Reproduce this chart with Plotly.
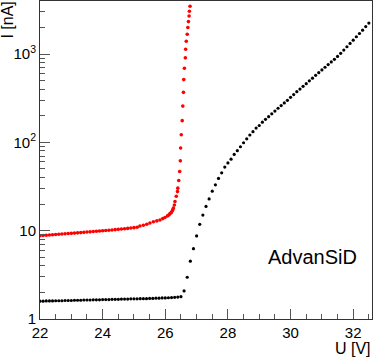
'''
    I-V curves of two SiPMs (AdvanSiD), log current scale.
'''
import plotly.graph_objects as go

# red device: bias voltage [V] and current [nA]
red_u = [22.0, 22.1, 22.2, 22.3, 22.4, 22.5, 22.6, 22.7, 22.8, 22.9,
         23.0, 23.1, 23.2, 23.3, 23.4, 23.5, 23.6, 23.7, 23.8, 23.9,
         24.0, 24.1, 24.2, 24.3, 24.4, 24.5, 24.6, 24.7, 24.8, 24.9,
         25.0, 25.1, 25.19, 25.30, 25.41, 25.51, 25.62, 25.73, 25.83, 25.92,
         25.99, 26.07, 26.12, 26.15, 26.19, 26.22, 26.24, 26.26, 26.29, 26.31,
         26.35, 26.39, 26.40, 26.43, 26.46, 26.48, 26.49, 26.51, 26.54, 26.56,
         26.58, 26.59, 26.61, 26.64, 26.65, 26.67, 26.70, 26.72, 26.74, 26.76,
         26.77, 26.79]
red_i = [8.75, 8.80, 8.86, 8.92, 8.98, 9.04, 9.10, 9.16, 9.21, 9.27,
         9.33, 9.39, 9.45, 9.51, 9.57, 9.64, 9.70, 9.77, 9.84, 9.91,
         9.98, 10.05, 10.12, 10.19, 10.27, 10.35, 10.43, 10.52, 10.61, 10.71,
         10.82, 10.94, 11.3, 11.5, 11.8, 12.2, 12.6, 12.9, 13.2, 13.7,
         14.1, 14.7, 15.1, 15.6, 16.0, 16.7, 17.3, 18.0, 19.5, 21.4,
         24.5, 27.7, 30.3, 37.0, 46.8, 61.7, 86.1, 122, 176, 257,
         368, 513, 689, 904, 1130, 1393, 1671, 1995, 2328, 2692,
         3048, 3467]

# black device
black_u = [22.0, 22.1, 22.2, 22.3, 22.4, 22.5, 22.6, 22.7, 22.8, 22.9,
           23.0, 23.1, 23.2, 23.3, 23.4, 23.5, 23.6, 23.7, 23.8, 23.9,
           24.0, 24.1, 24.2, 24.3, 24.4, 24.5, 24.6, 24.7, 24.8, 24.9,
           25.0, 25.1, 25.2, 25.3, 25.4, 25.5, 25.6, 25.7, 25.8, 25.9,
           26.0, 26.1, 26.2, 26.3, 26.4, 26.5, 26.6, 26.7, 26.8, 26.9,
           27.0, 27.1, 27.2, 27.3, 27.4, 27.5, 27.6, 27.7, 27.8, 27.9,
           28.0, 28.1, 28.2, 28.3, 28.4, 28.5, 28.6, 28.7, 28.8, 28.9,
           29.0, 29.1, 29.2, 29.3, 29.4, 29.5, 29.6, 29.7, 29.8, 29.9,
           30.0, 30.1, 30.2, 30.3, 30.4, 30.5, 30.6, 30.7, 30.8, 30.9,
           31.0, 31.1, 31.2, 31.3, 31.4, 31.5, 31.6, 31.7, 31.8, 31.9,
           32.0, 32.1, 32.2, 32.3, 32.4, 32.5]
black_i = [1.59, 1.59, 1.60, 1.60, 1.60, 1.61, 1.61, 1.61, 1.62, 1.62,
           1.62, 1.63, 1.63, 1.63, 1.64, 1.64, 1.64, 1.65, 1.65, 1.65,
           1.66, 1.66, 1.66, 1.67, 1.67, 1.67, 1.68, 1.68, 1.68, 1.69,
           1.69, 1.69, 1.70, 1.70, 1.70, 1.71, 1.71, 1.72, 1.72, 1.73,
           1.73, 1.74, 1.75, 1.76, 1.77, 1.79, 2.08, 2.97, 4.51, 6.26,
           8.73, 11.8, 15.0, 18.8, 22.9, 28.0, 33.0, 39.0, 45.2, 52.5,
           58.5, 64.5, 73.0, 80.4, 89.1, 98.9, 109.6, 121, 132, 145,
           155, 169, 182, 195, 210, 226, 243, 261, 279, 299,
           323, 347, 375, 401, 431, 461, 497, 533, 573, 615,
           661, 708, 759, 813, 871, 938, 1019, 1109, 1208, 1318,
           1435, 1567, 1706, 1862, 2042, 2239]

y_major = [1, 10, 100, 1000]
y_labels = ['1', '10', '10<sup>2</sup>', '10<sup>3</sup>']
y_minor = [m * d for d in (1, 10, 100, 1000) for m in range(2, 10) if m * d < 4000]

FONT = 'Liberation Sans, Arial, sans-serif'

fig = go.Figure()
fig.add_trace(go.Scatter(x=red_u, y=red_i, mode='markers',
                         marker=dict(color='#ff0000', size=3.6)))
fig.add_trace(go.Scatter(x=black_u, y=black_i, mode='markers',
                         marker=dict(color='#000000', size=3.2)))

fig.update_xaxes(
    range=[22, 32.6], showline=True, linecolor='#333333', linewidth=1,
    mirror=True, showgrid=False, zeroline=False,
    tickvals=[22, 24, 26, 28, 30, 32], ticks='inside', ticklen=10,
    tickcolor='#555555', tickfont=dict(size=15, color='#000000'),
    minor=dict(ticks='inside', ticklen=5, dtick=0.5, tickcolor='#555555',
               showgrid=False)
)
fig.update_yaxes(
    type='log', range=[0, 3.6], showline=True, linecolor='#333333',
    linewidth=1, mirror=True, showgrid=False, zeroline=False,
    tickvals=y_major, ticktext=y_labels, ticks='inside', ticklen=10,
    tickcolor='#555555', tickfont=dict(size=15, color='#000000'),
    minor=dict(ticks='inside', ticklen=5, tickvals=y_minor,
               tickcolor='#555555', showgrid=False)
)

fig.update_layout(
    width=374, height=357,
    margin=dict(l=40, r=2, t=1, b=38),
    paper_bgcolor='white', plot_bgcolor='white',
    showlegend=False,
    font=dict(family=FONT, color='#000000'),
    annotations=[
        dict(text='U [V]', xref='paper', yref='paper', x=1.004, y=-0.092,
             xanchor='right', yanchor='middle', showarrow=False,
             font=dict(size=16)),
        dict(text='I [nA]', xref='paper', yref='paper', x=-0.098, y=0.94,
             xanchor='center', yanchor='middle', textangle=-90,
             showarrow=False, font=dict(size=16)),
        dict(text='AdvanSiD', xref='paper', yref='paper', x=0.96, y=0.195,
             xanchor='right', yanchor='middle', showarrow=False,
             font=dict(size=20)),
    ],
)

# the page body has a default 8px margin; drop it so the chart sits at 0,0
fig.write_html('out.html', config={'displayModeBar': False},
               post_script="document.body.style.margin='0';")
